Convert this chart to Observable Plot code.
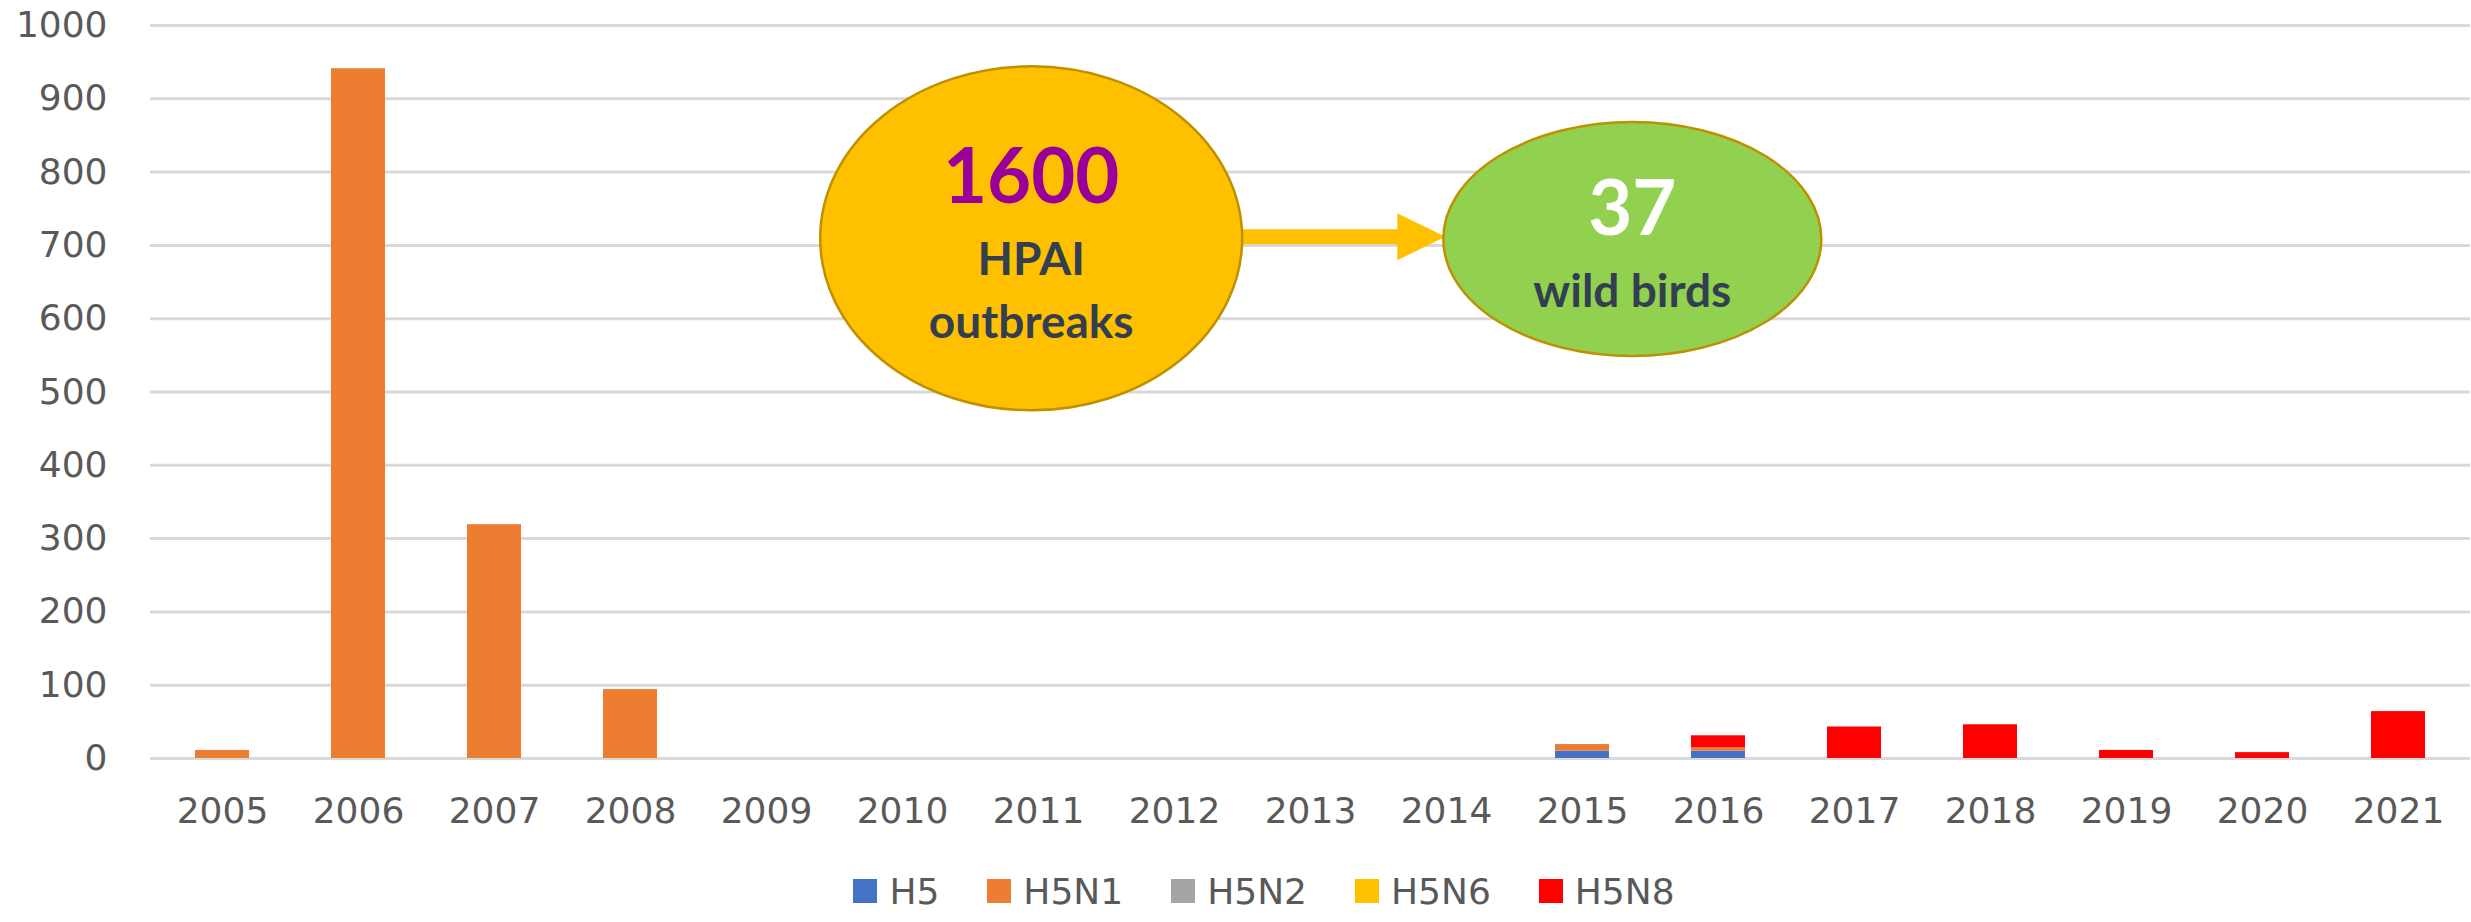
<!DOCTYPE html>
<html><head><meta charset="utf-8">
<script src="https://cdn.jsdelivr.net/npm/d3@7"></script>
<script src="https://cdn.jsdelivr.net/npm/@observablehq/plot@0.6"></script>
<style>
html,body{margin:0;padding:0;background:#fff;width:2471px;height:922px;overflow:hidden;}
#chart svg{display:block;}
#legend{display:flex;justify-content:center;align-items:center;height:62px;padding-left:57px;box-sizing:border-box;width:2471px;font-family:"DejaVu Sans";font-size:36px;color:#595959;}
.item{display:flex;align-items:center;margin:0 24px;}
.sw{width:24px;height:24px;margin-right:12px;}
</style></head><body>
<div id="chart"></div><div id="legend"></div>
<script>
const years = ["2005","2006","2007","2008","2009","2010","2011","2012","2013","2014","2015","2016","2017","2018","2019","2020","2021"];
const seriesNames = ["H5","H5N1","H5N2","H5N6","H5N8"];
const seriesColors = ["#4472C4","#ED7D31","#A5A5A5","#FFC000","#FF0000"];
const h5   = [0,0,0,0,0,0,0,0,0,0,10,10,0,0,0,0,0];
const h5n1 = [11,941,319,94,0,0,0,0,0,0,9,5,0,0,0,0,0];
const h5n2 = [0,0,0,0,0,0,0,0,0,0,0,0,0,0,0,0,0];
const h5n6 = [0,0,0,0,0,0,0,0,0,0,0,0,0,0,0,0,0];
const h5n8 = [0,0,0,0,0,0,0,0,0,0,0,16,43,46,11,8,64];
const yTicks = [0,100,200,300,400,500,600,700,800,900,1000];
const bubble1Text = ["1600","HPAI","outbreaks"];
const bubble2Text = ["37","wild birds"];

const seriesValues = [h5, h5n1, h5n2, h5n6, h5n8];
const rows = [];
seriesNames.forEach((s, si) => {
  years.forEach((yr, i) => {
    const v = seriesValues[si][i];
    if (v > 0) rows.push({year: yr, series: s, value: v});
  });
});

function annotations(index, scales) {
  const sx = scales.x, sy = scales.y;
  const bw = typeof sx.bandwidth === "function" ? sx.bandwidth() : (sx.bandwidth || 0);
  const step = sx("2006") - sx("2005");
  const cx = (yr, shift) => sx(yr) + bw / 2 + shift * step;
  const g = d3.create("svg:g");
  const c1 = {x: cx("2011", -0.05), y: sy(709), rx: 211, ry: 172};
  const c2 = {x: cx("2015", 0.37), y: sy(708), rx: 189, ry: 117};
  const ay = sy(711), x0 = c1.x + c1.rx - 4, x1 = c2.x - c2.rx + 2, hl = 48, sh = 7.5, hh = 23.5;
  g.append("path")
    .attr("d", `M${x0},${ay - sh}L${x1 - hl},${ay - sh}L${x1 - hl},${ay - hh}L${x1},${ay}L${x1 - hl},${ay + hh}L${x1 - hl},${ay + sh}L${x0},${ay + sh}Z`)
    .attr("fill", "#FFC000");
  g.append("ellipse").attr("cx", c1.x).attr("cy", c1.y).attr("rx", c1.rx).attr("ry", c1.ry)
    .attr("fill", "#FFC000").attr("stroke", "#BF9000").attr("stroke-width", 2.5);
  g.append("ellipse").attr("cx", c2.x).attr("cy", c2.y).attr("rx", c2.rx).attr("ry", c2.ry)
    .attr("fill", "#92D050").attr("stroke", "#BF9000").attr("stroke-width", 2.5);
  const t = (x, y, text, size, color) => g.append("text")
    .attr("x", x).attr("y", y).attr("text-anchor", "middle")
    .attr("font-family", "Lato").attr("font-weight", "bold")
    .attr("font-size", size).attr("fill", color).text(text);
  t(c1.x, c1.y - 35, bubble1Text[0], 76, "#990099");
  t(c1.x, c1.y + 37, bubble1Text[1], 46, "#333F50");
  t(c1.x, c1.y + 100, bubble1Text[2], 46, "#333F50");
  t(c2.x, c2.y - 4, bubble2Text[0], 76, "#FFFFFF");
  t(c2.x, c2.y + 68, bubble2Text[1], 46, "#333F50");
  return g.node();
}

const chart = Plot.plot({
  width: 2471, height: 860,
  marginLeft: 150, marginRight: 1, marginTop: 25, marginBottom: 102,
  style: {fontFamily: "DejaVu Sans", fontSize: "36px", color: "#595959", background: "#fff", overflow: "visible"},
  x: {type: "band", domain: years, paddingInner: 0.6, paddingOuter: 0.3, label: null},
  y: {domain: [0, 1000], label: null},
  color: {domain: seriesNames, range: seriesColors},
  marks: [
    Plot.gridY(yTicks, {stroke: "#d9d9d9", strokeOpacity: 1, strokeWidth: 3}),
    Plot.axisY(yTicks, {tickSize: 0, tickPadding: 43, label: null, tickFormat: d => String(d)}),
    Plot.axisX({tickSize: 0, tickPadding: 39, label: null}),
    Plot.barY(rows, {x: "year", y: "value", fill: "series", order: seriesNames}),
    annotations
  ]
});
document.getElementById("chart").appendChild(chart);

const legend = document.getElementById("legend");
seriesNames.forEach((s, i) => {
  const it = document.createElement("div"); it.className = "item";
  const sw = document.createElement("div"); sw.className = "sw"; sw.style.background = seriesColors[i];
  const lb = document.createElement("span"); lb.textContent = s;
  it.appendChild(sw); it.appendChild(lb); legend.appendChild(it);
});
</script>
</body></html>
